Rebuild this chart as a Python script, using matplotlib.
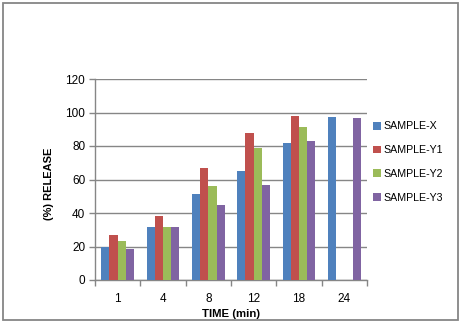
import numpy as np
import matplotlib
matplotlib.use("Agg")
import matplotlib.pyplot as plt
from matplotlib.patches import Rectangle

# Dissolution data: % released at each sampling time
times = ["1", "4", "8", "12", "18", "24"]
sample_x = [20.0, 31.6, 51.3, 65.1, 81.8, 97.3]
sample_y1 = [27.0, 38.2, 66.9, 87.8, 97.9, np.nan]
sample_y2 = [23.3, 31.6, 56.1, 78.8, 91.3, np.nan]
sample_y3 = [18.5, 31.6, 44.8, 56.7, 83.0, 96.7]
series_names = ["SAMPLE-X", "SAMPLE-Y1", "SAMPLE-Y2", "SAMPLE-Y3"]
y_ticks = [0, 20, 40, 60, 80, 100, 120]

colors = ["#4F81BD", "#C0504D", "#9BBB59", "#8064A2"]
grid_col = "#868686"

plt.rcParams["font.family"] = ["Liberation Sans", "DejaVu Sans"]

fig = plt.figure(figsize=(4.59, 3.22), dpi=100)
ax = fig.add_axes([95 / 459, 1 - 280 / 322, 272 / 459, 201 / 322])

series = [sample_x, sample_y1, sample_y2, sample_y3]
n = len(series)
group_w = 0.727
bar_w = group_w / n
x = np.arange(len(times))
for i, (vals, name, c) in enumerate(zip(series, series_names, colors)):
    offs = -group_w / 2 + bar_w * (i + 0.5)
    ax.bar(x + offs, vals, width=bar_w, color=c, label=name, zorder=3)

ax.set_xlim(-0.5, len(times) - 0.5)
ax.set_ylim(0, 120)
ax.set_yticks(y_ticks)
ax.yaxis.grid(True, color=grid_col, linewidth=1.0, zorder=0)

# category boundaries carry the tick marks, centers carry the labels
ax.set_xticks(np.arange(len(times) + 1) - 0.5)
ax.set_xticklabels([])
ax.set_xticks(x, minor=True)
ax.set_xticklabels(times, minor=True)
ax.tick_params(axis="x", which="major", length=4, color=grid_col, width=1)
ax.tick_params(axis="x", which="minor", length=0, pad=9, labelsize=8.5)
ax.tick_params(axis="y", length=4, color=grid_col, width=1, labelsize=8.5, pad=3)

for s in ["top", "right"]:
    ax.spines[s].set_visible(False)
for s in ["left", "bottom"]:
    ax.spines[s].set_color(grid_col)
    ax.spines[s].set_linewidth(1.0)

ax.set_xlabel("TIME (min)", fontsize=8.2, fontweight="bold", labelpad=3)
ax.set_ylabel("(%) RELEASE", fontsize=8, fontweight="bold", labelpad=9)
ax.yaxis.set_label_coords(-0.15, 0.48)

leg = ax.legend(loc="upper left", bbox_to_anchor=(1.005, 0.81), frameon=False,
                fontsize=7.7, handlelength=0.75, handleheight=0.75,
                handletextpad=0.3, labelspacing=1.28, borderaxespad=0)

# chart area border
fig.patches.append(Rectangle((3 / 459, 2 / 322), 455 / 459, 317 / 322,
                             transform=fig.transFigure, fill=False,
                             edgecolor=grid_col, linewidth=1.3))

fig.savefig("out.png", dpi=100)
